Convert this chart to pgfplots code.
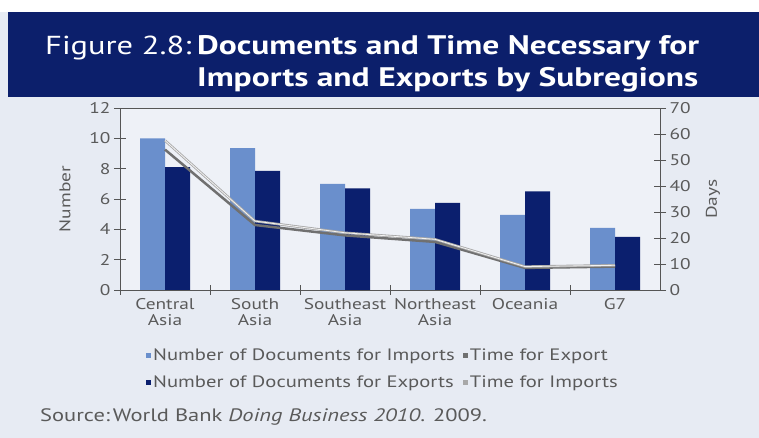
\documentclass[border=0pt]{standalone}
\usepackage{fontspec}
\setmainfont{PT Sans}[FakeStretch=1.25]
\usepackage{pgfplots}
\pgfplotsset{compat=1.18}
\definecolor{banner}{HTML}{0C1F6B}
\definecolor{bgc}{HTML}{E7EBF3}
\definecolor{plotbg}{HTML}{EEF1F7}
\definecolor{lightbar}{HTML}{6A8FCC}
\definecolor{darkbar}{HTML}{0B1F6E}
\definecolor{expline}{HTML}{707070}
\definecolor{impline}{HTML}{A8A8A8}
\definecolor{txt}{HTML}{5A5A5A}
\definecolor{axc}{HTML}{555555}
\begin{document}
\begin{tikzpicture}[x=1pt,y=1pt]
\fill[bgc] (0,0) rectangle (759,438);
\fill[white] (0,426) rectangle (759,438);
\fill[banner] (8,341) rectangle (759,426);
\node[anchor=base west, inner sep=0, text=white, font=\fontsize{26}{30}\selectfont] at (45,383) {Figure 2.8:};
\node[anchor=base west, inner sep=0, text=white, font=\fontsize{26.8}{30}\selectfont\bfseries] at (197,383) {Documents and Time Necessary for};
\node[anchor=base west, inner sep=0, text=white, font=\fontsize{26.8}{30}\selectfont\bfseries] at (197,351) {Imports and Exports by Subregions};
\fill[plotbg] (120,148) rectangle (660,330);
\begin{axis}[
  at={(120pt,148pt)}, anchor=south west, scale only axis,
  width=540pt, height=182pt,
  xmin=-0.5, xmax=5.5, ymin=0, ymax=12,
  axis line style={axc, line width=0.8pt},
  xtick={0,1,2,3,4,5},
  xticklabels={Central\\Asia, South\\Asia, Southeast\\Asia, Northeast\\Asia, Oceania, G7},
  major x tick style={draw=none},
  minor xtick={-0.5,0.5,1.5,2.5,3.5,4.5},
  minor x tick style={axc, line width=0.8pt},
  minor tick length=10pt,
  xtick pos=bottom, ytick pos=left,
  ytick={0,2,...,12},
  tick align=center, major tick length=12pt,
  y tick style={axc, line width=0.8pt},
  /pgf/number format/assume math mode=true,
  tick label style={font=\fontsize{15.5}{16}\selectfont, text=txt},
  xticklabel style={align=center, yshift=1pt},
  ylabel={Number},
  ylabel style={at={(axis description cs:-0.102,0.5)}, anchor=center, rotate=0, font=\fontsize{15.5}{17}\selectfont, text=txt},
]
\addplot[ybar, bar width=25pt, bar shift=-12.5pt, fill=lightbar, draw=none] coordinates {(0,10.0) (1,9.35) (2,7.0) (3,5.35) (4,4.95) (5,4.1)};
\addplot[ybar, bar width=25pt, bar shift=12.5pt, fill=darkbar, draw=none] coordinates {(0,8.1) (1,7.85) (2,6.7) (3,5.75) (4,6.5) (5,3.5)};
\end{axis}
\begin{axis}[
  at={(120pt,148pt)}, anchor=south west, scale only axis,
  width=540pt, height=182pt,
  xmin=-0.5, xmax=5.5, ymin=0, ymax=70,
  axis x line=none, axis y line*=right,
  axis line style={axc, line width=0.8pt},
  ytick={0,10,...,70},
  tick align=center, major tick length=12pt,
  y tick style={axc, line width=0.8pt},
  /pgf/number format/assume math mode=true,
  tick label style={font=\fontsize{15.5}{16}\selectfont, text=txt},
  ylabel={Days},
  ylabel style={at={(axis description cs:1.098,0.5)}, anchor=center, rotate=0, font=\fontsize{15.5}{17}\selectfont, text=txt},
  legend style={at={(26pt,-57pt)}, anchor=north west, draw=none, fill=none,
    font=\fontsize{16.5}{18}\selectfont, text=txt, row sep=9pt,
    inner sep=0pt, /tikz/every even column/.style={column sep=6pt}},
  legend columns=2, legend cell align=left,
  legend image code/.code={\fill[#1] (1pt,-2.5pt) rectangle (6pt,2.5pt);},
]
\addlegendimage{fill=lightbar, draw=none}
\addlegendentry{Number of Documents for Imports}
\addlegendimage{fill=expline, draw=none}
\addlegendentry{Time for Export}
\addlegendimage{fill=darkbar, draw=none}
\addlegendentry{Number of Documents for Exports}
\addlegendimage{fill=impline, draw=none}
\addlegendentry{Time for Imports}
\addplot[expline, line width=2.5pt, forget plot] coordinates {(0,54) (1,25) (2,21) (3,18.5) (4,8.5) (5,9)};
\addplot[impline, line width=2.5pt, forget plot] coordinates {(0,57.5) (1,26.5) (2,22) (3,19.5) (4,9) (5,9.5)};
\addplot[white!85!impline, line width=0.8pt, forget plot] coordinates {(0,57.5) (1,26.5) (2,22) (3,19.5) (4,9) (5,9.5)};
\end{axis}
\node[anchor=base west, inner sep=0, text=txt, font=\fontsize{18}{20}\selectfont] at (40,16) {Source:\,World Bank \textit{Doing Business 2010}. 2009.};
\end{tikzpicture}
\end{document}
